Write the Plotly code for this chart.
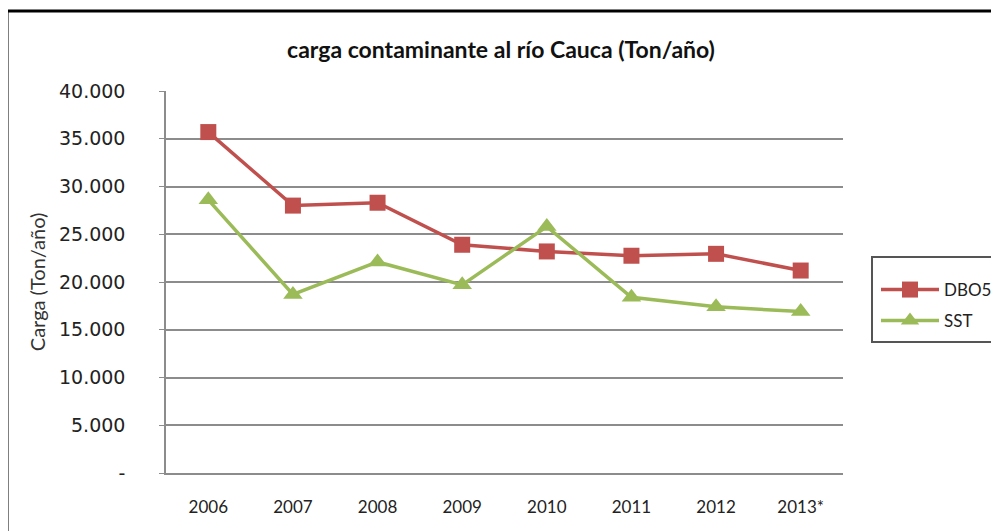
import plotly.graph_objects as go

years = ['2006', '2007', '2008', '2009', '2010', '2011', '2012', '2013*']
dbo5 = [35700, 28000, 28300, 23900, 23200, 22750, 22950, 21200]
sst = [28600, 18700, 22100, 19700, 25800, 18400, 17400, 16900]
y_ticks = [0, 5000, 10000, 15000, 20000, 25000, 30000, 35000, 40000]
y_labels = ['-', '5.000', '10.000', '15.000', '20.000', '25.000', '30.000', '35.000', '40.000']

RED = '#C0504D'
GREEN = '#9BBB59'
GRID = '#8C8C8C'

fig = go.Figure()

fig.add_trace(go.Scatter(
    x=years, y=dbo5, name='DBO5', mode='lines+markers',
    line=dict(color=RED, width=3.5),
    marker=dict(symbol='square', size=16, color=RED),
    legend='legend', showlegend=True,
))
fig.add_trace(go.Scatter(
    x=years, y=sst, name='SST', mode='lines+markers',
    line=dict(color=GREEN, width=3.5),
    marker=dict(symbol='triangle-up', size=17, color=GREEN),
    legend='legend2', showlegend=True,
))

# the page body has an 8px margin, so the figure starts 8px in
OFF = 8
# plot area on screen: x 166..843, y 91..473
L, R, T, B = 166, 843, 91, 473
W, H = R - L, B - T


def px(x):
    return (x - L) / W


def py(y):
    return (B - y) / H


fig.add_shape(type='rect', xref='paper', yref='paper',
              x0=px(7), x1=px(1010), y0=py(545), y1=py(11),
              line=dict(color='black', width=3), fillcolor='rgba(0,0,0,0)', layer='above')
fig.add_shape(type='rect', xref='paper', yref='paper',
              x0=px(872), x1=px(1010), y0=py(342), y1=py(257),
              line=dict(color='#555555', width=2), fillcolor='rgba(0,0,0,0)')

legend_font = dict(family='Lato, sans-serif', size=17, color='#222222')

fig.update_layout(
    width=999, height=531,
    margin=dict(l=L - OFF, r=999 - (R - OFF), t=T - OFF, b=531 - (B - OFF), autoexpand=False),
    paper_bgcolor='white',
    plot_bgcolor='white',
    showlegend=True,
    title=dict(
        text='<b>carga contaminante al río Cauca (Ton/año)</b>',
        x=px(501), xref='paper', xanchor='center',
        y=1 - (50 - OFF) / 531, yanchor='middle',
        font=dict(family='Lato, sans-serif', size=23, color='#111111'),
    ),
    legend=dict(
        x=px(876), y=py(290), xanchor='left', yanchor='middle',
        bgcolor='rgba(0,0,0,0)', borderwidth=0, font=legend_font, itemwidth=58,
    ),
    legend2=dict(
        x=px(876), y=py(321), xanchor='left', yanchor='middle',
        bgcolor='rgba(0,0,0,0)', borderwidth=0, font=legend_font, itemwidth=58,
    ),
    xaxis=dict(
        type='category',
        range=[-0.5, len(years) - 0.5],
        showgrid=False,
        showline=True, linecolor=GRID, linewidth=1.5,
        ticks='',
        tickfont=dict(family='Lato, sans-serif', size=17, color='#222222'),
        ticklabelstandoff=18,
    ),
    yaxis=dict(
        title=dict(text='Carga (Ton/año)', standoff=8,
                   font=dict(family='Lato, sans-serif', size=20, color='#333333')),
        range=[0, 40000],
        tickvals=y_ticks, ticktext=y_labels,
        showgrid=True, gridcolor=GRID, gridwidth=1.5,
        showline=True, linecolor=GRID, linewidth=1.5,
        ticks='outside', ticklen=5, tickcolor=GRID,
        tickfont=dict(family='DejaVu Sans, sans-serif', size=19, color='#222222'),
        ticklabelstandoff=30,
        zeroline=False,
    ),
)

fig.write_html('out.html')
